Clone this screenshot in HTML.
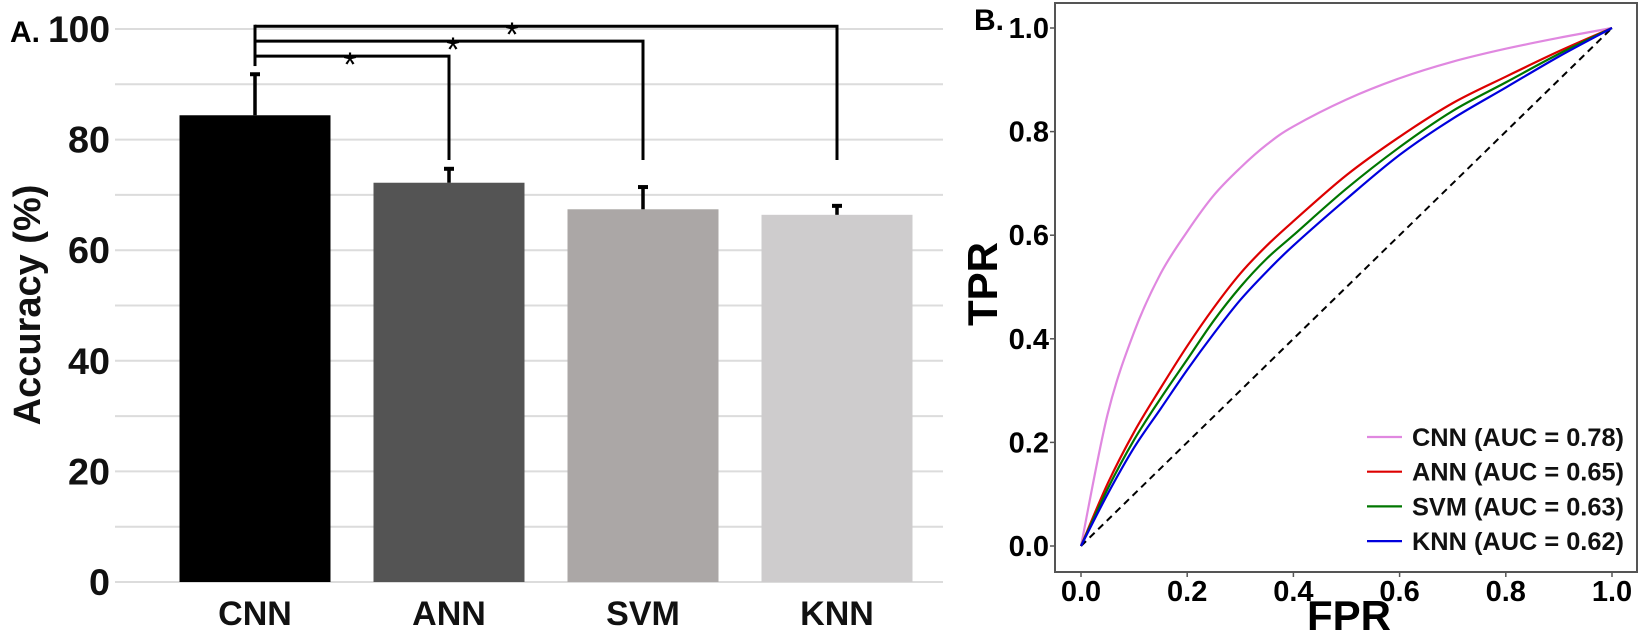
<!DOCTYPE html>
<html><head><meta charset="utf-8"><style>
html,body{margin:0;padding:0;background:#fff;}
svg{display:block;font-family:"Liberation Sans",Arial,sans-serif;}
</style></head><body>
<svg id="chart" width="1642" height="631" viewBox="0 0 1642 631">
<g id="panelA"></g>
<g id="panelB"></g>
</svg>
<script>
// ---- Panel A data ----
const categories = ["CNN","ANN","SVM","KNN"];
const accuracy = [84.4, 72.2, 67.4, 66.4];
const errorTop = [92.0, 74.9, 71.6, 68.2];
const barColors = ["#000000","#545454","#aba7a6","#cecccd"];
const yTicksA = [0,20,40,60,80,100];
const bracketLevels = [95.1, 97.8, 100.5];
const bracketTargets = [1, 2, 3];
// ---- Panel B data ----
const fprPoints = [0,0.05,0.1,0.15,0.2,0.25,0.3,0.35,0.4,0.5,0.6,0.7,0.8,0.9,1.0];
const tprCNN = [0,0.254,0.413,0.526,0.607,0.677,0.73,0.775,0.81,0.862,0.903,0.935,0.96,0.981,1.0];
const tprANN = [0,0.12,0.22,0.305,0.386,0.46,0.526,0.58,0.627,0.716,0.79,0.855,0.906,0.955,1.0];
const tprSVM = [0,0.11,0.205,0.285,0.36,0.435,0.50,0.555,0.60,0.69,0.77,0.84,0.895,0.95,1.0];
const tprKNN = [0,0.10,0.19,0.265,0.34,0.41,0.475,0.53,0.58,0.67,0.755,0.825,0.885,0.945,1.0];
const rocNames = ["CNN (AUC = 0.78)","ANN (AUC = 0.65)","SVM (AUC = 0.63)","KNN (AUC = 0.62)"];
const rocColors = ["#e088e0","#dd0000","#007700","#0000dd"];
const xyTicksB = [0,0.2,0.4,0.6,0.8,1.0];

const NS="http://www.w3.org/2000/svg";
function mk(parent,tag,attrs,text){const e=document.createElementNS(NS,tag);for(const k in attrs)e.setAttribute(k,attrs[k]);if(text!==undefined)e.textContent=text;parent.appendChild(e);return e;}

// ---- Panel A ----
const A=document.getElementById('panelA');
const yA=v=>582-v*5.53;
const xA=i=>255+i*194;
const barW=151;
for(let v=0;v<=100;v+=10){
  const g=mk(A,'line',{x1:115,x2:943,y1:yA(v),y2:yA(v),stroke:'#dcdcdc','stroke-width':2});
  
  
}
yTicksA.forEach(v=>{
  const t=mk(A,'text',{x:110,y:yA(v)+13,'text-anchor':'end','font-size':37,'font-weight':'bold',textLength:(v>=100?62:(v>0?42:21)),lengthAdjust:'spacingAndGlyphs',fill:'#111'},String(v));
  
  
});
const yl=mk(A,'text',{x:0,y:0,transform:'translate(40,305) rotate(-90)','text-anchor':'middle','font-size':38,'font-weight':'bold',fill:'#111'},'Accuracy (%)');


const la=mk(A,'text',{x:10,y:42,'font-size':30,'font-weight':'bold',fill:'#000'},'A.');


categories.forEach((c,i)=>{
  const r=mk(A,'rect',{x:xA(i)-barW/2,y:yA(accuracy[i]),width:barW,height:yA(0)-yA(accuracy[i]),fill:barColors[i]});
  
  
  const e=mk(A,'line',{x1:xA(i),x2:xA(i),y1:yA(accuracy[i]),y2:yA(errorTop[i]),stroke:'#000','stroke-width':3.5});
  
  
  const cap=mk(A,'line',{x1:xA(i)-5,x2:xA(i)+5,y1:yA(errorTop[i])+1,y2:yA(errorTop[i])+1,stroke:'#000','stroke-width':4});
  
  
  const t=mk(A,'text',{x:xA(i),y:625,'text-anchor':'middle','font-size':34,'font-weight':'bold',fill:'#111'},c);
  
  
});
const bb=mk(A,'line',{x1:xA(0),x2:xA(0),y1:yA(93.3),y2:yA(Math.max(...bracketLevels))-1.5,stroke:'#000','stroke-width':3});


bracketLevels.forEach((lv,k)=>{
  const j=bracketTargets[k];
  const p=mk(A,'polyline',{points:`${xA(0)},${yA(lv)} ${xA(j)},${yA(lv)} ${xA(j)},${yA(76.3)}`,fill:'none',stroke:'#000','stroke-width':3});
  
  
  const sx=[350,453,512][k];
  const s=mk(A,'text',{x:sx,y:yA(lv)+20,'text-anchor':'middle','font-size':34,fill:'#000'},'*');
  
  
});

// ---- Panel B ----
const B=document.getElementById('panelB');
const xB=v=>1081+v*531;
const yB=v=>546-v*518;
const fr=mk(B,'rect',{x:1055,y:3,width:582,height:569,fill:'none',stroke:'#555','stroke-width':2});


xyTicksB.forEach(v=>{
  const tx=mk(B,'line',{x1:xB(v),x2:xB(v),y1:572,y2:577,stroke:'#555','stroke-width':1.5});
  
  
  const ty=mk(B,'line',{x1:1050,x2:1055,y1:yB(v),y2:yB(v),stroke:'#555','stroke-width':1.5});
  
  
  const lx=mk(B,'text',{x:xB(v),y:601,'text-anchor':'middle','font-size':29,'font-weight':'bold',fill:'#000'},v.toFixed(1));
  
  
  const ly=mk(B,'text',{x:1049,y:yB(v)+10,'text-anchor':'end','font-size':29,'font-weight':'bold',fill:'#000'},v.toFixed(1));
  
  
});
const dg=mk(B,'line',{x1:xB(0),y1:yB(0),x2:xB(1),y2:yB(1),stroke:'#000','stroke-width':2,'stroke-dasharray':'7,5'});


function smoothPath(xs,ys){
  let d=`M${xs[0]},${ys[0]}`;
  for(let i=0;i<xs.length-1;i++){
    const x0=xs[Math.max(i-1,0)],y0=ys[Math.max(i-1,0)],x1=xs[i],y1=ys[i],x2=xs[i+1],y2=ys[i+1],x3=xs[Math.min(i+2,xs.length-1)],y3=ys[Math.min(i+2,xs.length-1)];
    d+=` C${x1+(x2-x0)/6},${y1+(y2-y0)/6} ${x2-(x3-x1)/6},${y2-(y3-y1)/6} ${x2},${y2}`;
  }
  return d;
}
[tprCNN,tprANN,tprSVM,tprKNN].forEach((s,k)=>{
  const pl=mk(B,'path',{d:smoothPath(fprPoints.map(xB),s.map(yB)),fill:'none',stroke:rocColors[k],'stroke-width':2.2,'stroke-linejoin':'round'});
  
  
});
rocNames.forEach((n,k)=>{
  const y=437+k*34.7;
  const g=mk(B,'g',{});
  
  
  mk(g,'line',{x1:1367,x2:1402,y1:y,y2:y,stroke:rocColors[k],'stroke-width':2.2});
  mk(g,'text',{x:1412,y:y+9,'font-size':25,'font-weight':'bold',fill:'#111',textLength:212,lengthAdjust:'spacingAndGlyphs'},n);
});
const tl=mk(B,'text',{x:0,y:0,transform:'translate(997,284) rotate(-90)','text-anchor':'middle','font-size':42,'font-weight':'bold',fill:'#000'},'TPR');


const fl=mk(B,'text',{x:1349,y:630,'text-anchor':'middle','font-size':42,'font-weight':'bold',fill:'#000'},'FPR');


const lb=mk(B,'text',{x:974,y:30,'font-size':30,'font-weight':'bold',fill:'#000'},'B.');


</script>
</body></html>
